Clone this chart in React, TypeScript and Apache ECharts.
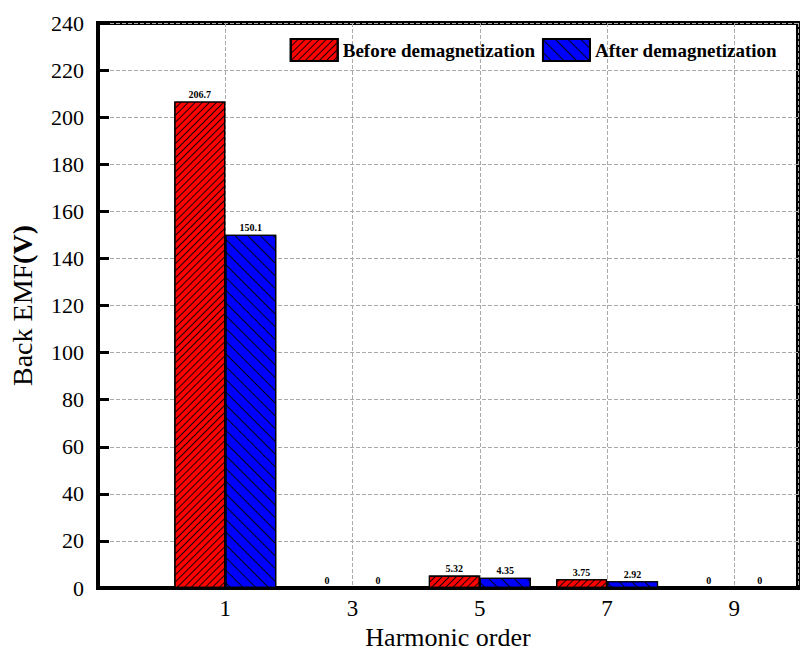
import { useEffect, useRef } from 'react'
import * as echarts from 'echarts'

const orders = [1, 3, 5, 7, 9]
const before = [206.7, 0, 5.32, 3.75, 0]
const after = [150.1, 0, 4.35, 2.92, 0]
const yTicks = [0, 20, 40, 60, 80, 100, 120, 140, 160, 180, 200, 220, 240]

const FONT = "'Liberation Serif', 'Times New Roman', serif"

function App() {
  const chartRef = useRef<HTMLDivElement>(null)

  useEffect(() => {
    if (!chartRef.current) return
    document.body.style.margin = '0'
    const chart = echarts.init(chartRef.current, undefined, { renderer: 'svg' })

    const label = {
      show: true,
      position: 'top' as const,
      distance: 2,
      color: '#000',
      fontFamily: FONT,
      fontWeight: 'bold' as const,
      fontSize: 10,
      formatter: (p: any) => String(p.value[1]),
    }

    const option: echarts.EChartsOption = {
      animation: false,
      backgroundColor: '#fff',
      textStyle: { fontFamily: FONT },
      grid: {
        left: 97,
        top: 23,
        right: 9,
        bottom: 70,
        show: true,
        borderColor: '#000',
        borderWidth: 4,
      },
      legend: {
        top: 33,
        right: 25,
        icon: 'rect',
        itemWidth: 47,
        itemHeight: 22,
        itemGap: 7,
        textStyle: {
          fontFamily: FONT,
          fontWeight: 'bold',
          fontSize: 19,
          color: '#000',
        },
        data: ['Before demagnetization', 'After demagnetization'],
      },
      xAxis: {
        type: 'value',
        min: -1,
        max: 10,
        interval: 2,
        name: 'Harmonic order',
        nameLocation: 'middle',
        nameGap: 26,
        nameTextStyle: { fontFamily: FONT, fontSize: 26, color: '#000' },
        axisLine: { show: true, onZero: false, lineStyle: { color: '#000', width: 4 } },
        axisTick: { show: false },
        axisLabel: {
          fontFamily: FONT,
          fontSize: 23,
          color: '#000',
          margin: 9,
          formatter: (v: number) => (orders.includes(v) ? String(v) : ''),
        },
        splitLine: { show: true, lineStyle: { color: '#aaa', type: 'dashed', width: 1 } },
      },
      yAxis: {
        type: 'value',
        min: yTicks[0],
        max: yTicks[yTicks.length - 1],
        interval: 20,
        name: 'Back EMF{b|(V)}',
        nameLocation: 'middle',
        nameGap: 62,
        nameTextStyle: {
          fontFamily: FONT,
          fontSize: 28,
          color: '#000',
          rich: {
            b: { fontFamily: FONT, fontSize: 28, fontWeight: 'bold', color: '#000' },
          },
        },
        axisLine: { show: true, onZero: false, lineStyle: { color: '#000', width: 4 } },
        axisTick: { show: true, inside: true, length: 11, lineStyle: { color: '#000', width: 3 } },
        axisLabel: { fontFamily: FONT, fontSize: 22, color: '#000', margin: 14 },
        splitLine: { show: true, lineStyle: { color: '#aaa', type: 'dashed', width: 1 } },
      },
      series: [
        {
          name: 'Before demagnetization',
          type: 'bar',
          barWidth: 51,
          barGap: '0%',
          data: orders.map((o, i) => [o, before[i]]),
          label,
          itemStyle: {
            color: '#ff0000',
            borderColor: '#000',
            borderWidth: 1.2,
            decal: {
              symbol: 'rect',
              symbolSize: 1,
              color: 'rgba(0,0,0,0.9)',
              dashArrayX: [1, 0],
              dashArrayY: [1, 4],
              rotation: -Math.PI / 4,
            },
          },
        },
        {
          name: 'After demagnetization',
          type: 'bar',
          barWidth: 51,
          barGap: '0%',
          data: orders.map((o, i) => [o, after[i]]),
          label,
          itemStyle: {
            color: '#0000ff',
            borderColor: '#000',
            borderWidth: 1.2,
            decal: {
              symbol: 'rect',
              symbolSize: 1,
              color: 'rgba(0,0,0,0.9)',
              dashArrayX: [1, 0],
              dashArrayY: [1, 7.5],
              rotation: Math.PI / 4,
            },
          },
        },
      ],
    }

    chart.setOption(option)
    return () => {
      chart.dispose()
    }
  }, [])

  return <div ref={chartRef} style={{ width: 807, height: 658 }} />
}

export default App
